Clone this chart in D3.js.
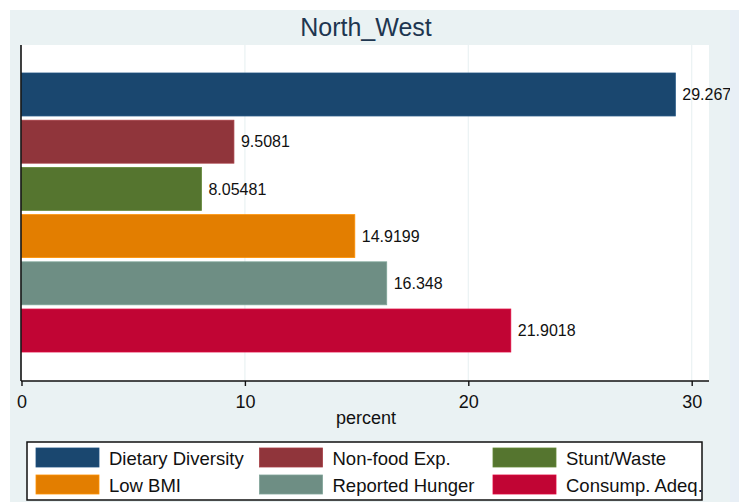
<!DOCTYPE html>
<html>
<head>
<meta charset="utf-8">
<script src="https://cdn.jsdelivr.net/npm/d3@7"></script>
<style>
  body { margin: 0; background: #ffffff; }
  text { font-family: Arial, "Liberation Sans", sans-serif; }
</style>
</head>
<body>
<div id="chart"></div>
<script>
// chart data
var categories = ["Dietary Diversity", "Non-food Exp.", "Stunt/Waste", "Low BMI", "Reported Hunger", "Consump. Adeq."];
var values = [29.267, 9.5081, 8.05481, 14.9199, 16.348, 21.9018];
var valueLabels = ["29.267", "9.5081", "8.05481", "14.9199", "16.348", "21.9018"];
var colors = ["#1a476f", "#90353b", "#55752f", "#e37e00", "#6e8e84", "#c10534"];
var xTicks = [0, 10, 20, 30];

(function() {
	var width = 743, height = 502;
	var plot = { left: 21, right: 709, top: 45, bottom: 381 };

	var svg = d3.select("#chart")
		.append("svg")
		.attr("width", width)
		.attr("height", height);

	// graph region background
	svg.append("rect")
		.attr("x", 10).attr("y", 10)
		.attr("width", 729).attr("height", 492)
		.attr("fill", "#eaf2f3");

	// plot region
	svg.append("rect")
		.attr("x", plot.left).attr("y", plot.top)
		.attr("width", plot.right - plot.left)
		.attr("height", plot.bottom - plot.top)
		.attr("fill", "#ffffff");

	var xScale = d3.scaleLinear()
		.domain([0, 30])
		.range([21.5, 691.7]);

	var yScale = d3.scaleBand()
		.domain(categories)
		.range([plot.top + 28, plot.bottom - 29])
		.paddingInner(0.09)
		.paddingOuter(0);

	// grid lines
	svg.selectAll(".grid")
		.data(xTicks.slice(1))
		.enter()
		.append("line")
		.attr("class", "grid")
		.attr("x1", function(d) { return xScale(d); })
		.attr("x2", function(d) { return xScale(d); })
		.attr("y1", plot.top)
		.attr("y2", plot.bottom)
		.attr("stroke", "#eaf2f3")
		.attr("stroke-width", 1.2);

	// bars
	svg.selectAll(".bar")
		.data(values)
		.enter()
		.append("rect")
		.attr("class", "bar")
		.attr("x", xScale(0))
		.attr("y", function(d, i) { return yScale(categories[i]); })
		.attr("width", function(d) { return xScale(d) - xScale(0); })
		.attr("height", yScale.bandwidth())
		.attr("fill", function(d, i) { return colors[i]; })
		.attr("stroke", function(d, i) { return d3.color(colors[i]).brighter(0.4); })
		.attr("stroke-width", 0.8);

	// value labels
	svg.selectAll(".value-label")
		.data(values)
		.enter()
		.append("text")
		.attr("class", "value-label")
		.attr("x", function(d) { return xScale(d) + 7; })
		.attr("y", function(d, i) { return yScale(categories[i]) + yScale.bandwidth() / 2; })
		.attr("dy", "0.36em")
		.attr("font-size", 16)
		.attr("fill", "#111")
		.text(function(d, i) { return valueLabels[i]; });

	// axes lines
	svg.append("line")
		.attr("x1", plot.left).attr("x2", plot.left)
		.attr("y1", plot.top).attr("y2", plot.bottom)
		.attr("stroke", "#111").attr("stroke-width", 1.6);

	var xAxis = d3.axisBottom(xScale)
		.tickValues(xTicks)
		.tickSize(5)
		.tickPadding(9)
		.tickSizeOuter(0);

	var gx = svg.append("g")
		.attr("transform", "translate(0," + plot.bottom + ")")
		.call(xAxis);
	gx.select(".domain").remove();
	gx.append("line")
		.attr("x1", plot.left).attr("x2", plot.right)
		.attr("stroke", "#111").attr("stroke-width", 1.6);
	gx.selectAll(".tick line").attr("stroke", "#111").attr("stroke-width", 1.4);
	gx.selectAll(".tick text")
		.attr("font-size", 18)
		.attr("font-family", "Arial, 'Liberation Sans', sans-serif")
		.attr("fill", "#111");

	svg.append("text")
		.attr("x", 366)
		.attr("y", 424)
		.attr("text-anchor", "middle")
		.attr("font-size", 18)
		.attr("fill", "#111")
		.text("percent");

	// title
	svg.append("text")
		.attr("x", 366)
		.attr("y", 36)
		.attr("text-anchor", "middle")
		.attr("font-size", 25)
		.attr("fill", "#1e3650")
		.text("North_West");

	// right edge strip (clips the top label)
	svg.append("rect")
		.attr("x", 730).attr("y", 10)
		.attr("width", 9).attr("height", 492)
		.attr("fill", "#e8eff6");

	// legend
	var legendCols = [36, 259.5, 493];
	var legend = svg.append("g");
	legend.append("rect")
		.attr("x", 27).attr("y", 442)
		.attr("width", 675).attr("height", 58)
		.attr("fill", "#ffffff")
		.attr("stroke", "#111")
		.attr("stroke-width", 1.5);

	var item = legend.selectAll(".legend-item")
		.data(categories)
		.enter()
		.append("g")
		.attr("class", "legend-item")
		.attr("transform", function(d, i) {
			return "translate(" + legendCols[i % 3] + "," + (448 + Math.floor(i / 3) * 27) + ")";
		});

	item.append("rect")
		.attr("width", 63)
		.attr("height", 19)
		.attr("fill", function(d, i) { return colors[i]; })
		.attr("stroke", function(d, i) { return d3.color(colors[i]).brighter(0.4); })
		.attr("stroke-width", 0.8);

	item.append("text")
		.attr("x", 73)
		.attr("y", 10)
		.attr("dy", "0.36em")
		.attr("font-size", 18.5)
		.attr("fill", "#111")
		.text(function(d) { return d; });
})();
</script>
</body>
</html>
